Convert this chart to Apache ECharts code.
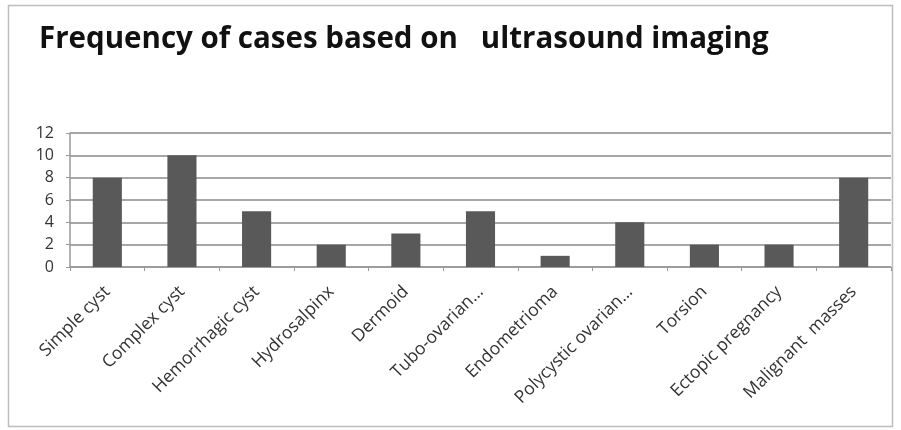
<!DOCTYPE html>
<html><head><meta charset="utf-8">
<script src="https://cdn.jsdelivr.net/npm/echarts@6/dist/echarts.min.js"></script>
<style>html,body{margin:0;padding:0;background:#fff}#c{width:901px;height:430px}</style>
</head><body><div id="c"></div>
<script>
const categories = ['Simple cyst','Complex cyst','Hemorrhagic cyst','Hydrosalpinx','Dermoid','Tubo-ovarian…','Endometrioma','Polycystic ovarian…','Torsion','Ectopic pregnancy','Malignant  masses'];
const values = [8,10,5,2,3,5,1,4,2,2,8];
const yTicks = [0,2,4,6,8,10,12];
const chart = echarts.init(document.getElementById('c'));
chart.setOption({
  animation:false,
  graphic:[{type:'rect',shape:{x:8.5,y:5.5,width:884,height:421},style:{fill:'none',stroke:'#bdbdbd',lineWidth:1.5}}],
  title:{text:'Frequency of cases based on   ultrasound imaging',left:34,top:20,
    textStyle:{fontFamily:'Open Sans',fontWeight:'bold',fontSize:29.5,color:'#111'}},
  grid:{left:70,right:10,top:133,bottom:163},
  xAxis:{type:'category',data:categories,
    axisLine:{lineStyle:{color:'#999',width:1.5}},
    axisTick:{show:true,length:4,lineStyle:{color:'#999'}},
    axisLabel:{rotate:45,interval:0,fontFamily:'Open Sans',fontSize:17.5,color:'#333',margin:22}},
  yAxis:{type:'value',min:yTicks[0],max:yTicks[yTicks.length-1],interval:2,
    axisLine:{show:true,lineStyle:{color:'#999',width:1.5}},
    axisTick:{show:true,length:4,lineStyle:{color:'#999'}},
    axisLabel:{fontFamily:'Open Sans',fontSize:16,color:'#333',margin:16},
    splitLine:{lineStyle:{color:'#8a8a8a',width:1.5}}},
  series:[{type:'bar',data:values,barWidth:'39%',itemStyle:{color:'#595959'}}]
});
</script></body></html>
